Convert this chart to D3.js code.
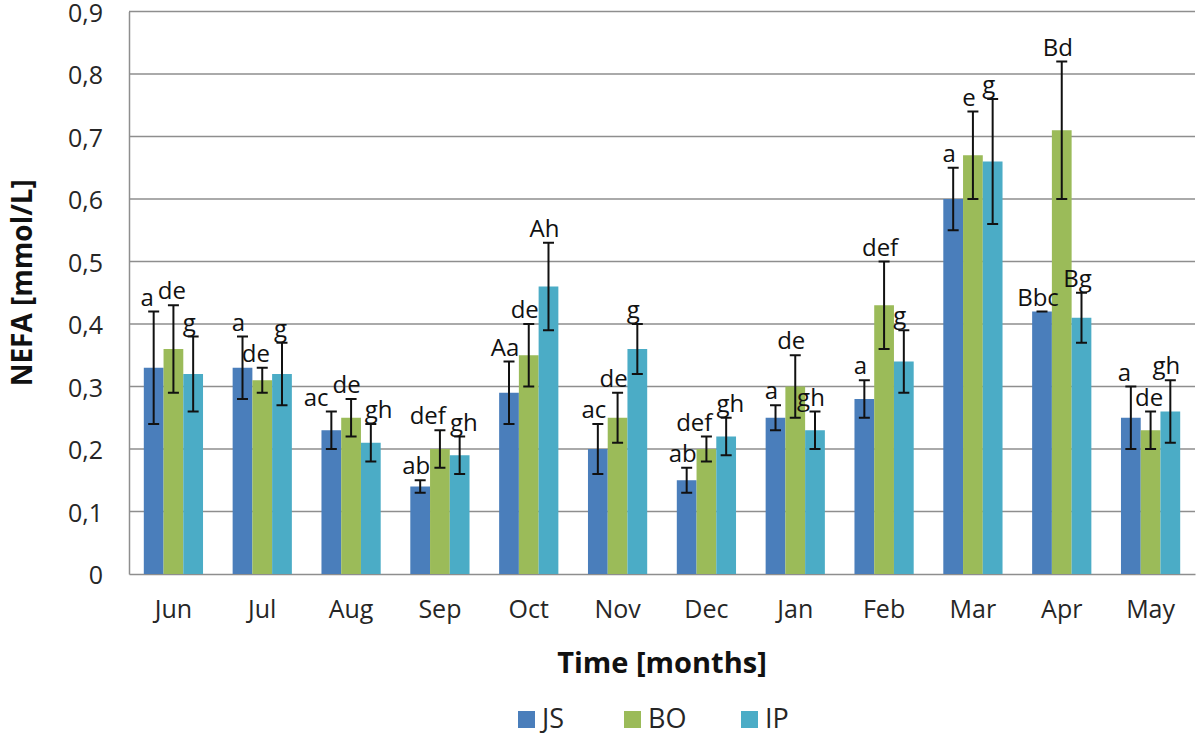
<!DOCTYPE html>
<html>
<head>
<meta charset="utf-8">
<script src="https://cdn.jsdelivr.net/npm/d3@7"></script>
<style>
  html, body { margin: 0; padding: 0; background: #fff; }
  svg { display: block; font-family: "Open Sans", sans-serif; }
</style>
</head>
<body>
<svg id="chart" width="1200" height="736"></svg>
<script>
const months = ["Jun","Jul","Aug","Sep","Oct","Nov","Dec","Jan","Feb","Mar","Apr","May"];
const seriesNames = ["JS","BO","IP"];
const jsValues = [0.33,0.33,0.23,0.14,0.29,0.20,0.15,0.25,0.28,0.60,0.42,0.25];
const boValues = [0.36,0.31,0.25,0.20,0.35,0.25,0.20,0.30,0.43,0.67,0.71,0.23];
const ipValues = [0.32,0.32,0.21,0.19,0.46,0.36,0.22,0.23,0.34,0.66,0.41,0.26];
const jsErrors = [0.09,0.05,0.03,0.01,0.05,0.04,0.02,0.02,0.03,0.05,0.00,0.05];
const boErrors = [0.07,0.02,0.03,0.03,0.05,0.04,0.02,0.05,0.07,0.07,0.11,0.03];
const ipErrors = [0.06,0.05,0.03,0.03,0.07,0.04,0.03,0.03,0.05,0.10,0.04,0.05];
const jsLetters = ["a","a","ac","ab","Aa","ac","ab","a","a","a","Bbc","a"];
const boLetters = ["de","de","de","def","de","de","def","de","def","e","Bd","de"];
const ipLetters = ["g","g","gh","gh","Ah","g","gh","gh","g","g","Bg","gh"];
const yTicks = [0,0.1,0.2,0.3,0.4,0.5,0.6,0.7,0.8,0.9];

const colors = {JS:"#4a7ebb", BO:"#9bbb59", IP:"#4bacc6"};
const valuesBy = {JS:jsValues, BO:boValues, IP:ipValues};
const errorsBy = {JS:jsErrors, BO:boErrors, IP:ipErrors};
const lettersBy = {JS:jsLetters, BO:boLetters, IP:ipLetters};

const svg = d3.select("#chart");
const L = 129, R = 1195, T = 11.5, B = 574;

const x0 = d3.scaleBand().domain(months).range([L, R]).padding(0);
const x1 = d3.scaleBand().domain(seriesNames).range([0, x0.bandwidth()]).paddingInner(0).paddingOuter(0.75);
const y = d3.scaleLinear().domain([0, 0.9]).range([B, T]);

// gridlines
svg.append("g").selectAll("line").data(yTicks.filter(d => d > 0)).join("line")
  .attr("x1", L).attr("x2", R)
  .attr("y1", d => y(d)).attr("y2", d => y(d))
  .attr("stroke", "#8e8e8e").attr("stroke-width", 1.5);

// y axis
const yAxis = d3.axisLeft(y).tickValues(yTicks).tickSize(0).tickPadding(26)
  .tickFormat(d => d === 0 ? "0" : d.toFixed(1).replace(".", ","));
const gy = svg.append("g").attr("transform", `translate(${L},0)`).call(yAxis);
gy.select(".domain").attr("stroke", "#8e8e8e").attr("stroke-width", 1.5);
gy.selectAll("text").attr("font-size", 25).attr("fill", "#262626").attr("font-family", "Open Sans")
  .attr("dy", "0.38em");

// x axis
const xAxis = d3.axisBottom(x0).tickSize(0).tickPadding(26);
const gx = svg.append("g").attr("transform", `translate(0,${B})`).call(xAxis);
gx.select(".domain").attr("stroke", "#8e8e8e").attr("stroke-width", 1.5);
gx.selectAll("text").attr("font-size", 25).attr("fill", "#262626").attr("font-family", "Open Sans");

// bars
const rows = [];
months.forEach((m, i) => {
  seriesNames.forEach(s => {
    rows.push({month: m, series: s, value: valuesBy[s][i], err: errorsBy[s][i], letter: lettersBy[s][i]});
  });
});

const gBars = svg.append("g");
gBars.selectAll("rect").data(rows).join("rect")
  .attr("x", d => x0(d.month) + x1(d.series))
  .attr("width", x1.bandwidth())
  .attr("y", d => y(d.value))
  .attr("height", d => B - y(d.value))
  .attr("fill", d => colors[d.series]);

// error bars
const cap = 5.5;
const gErr = svg.append("g").attr("stroke", "#111").attr("stroke-width", 2);
rows.forEach(d => {
  const cx = x0(d.month) + x1(d.series) + x1.bandwidth() / 2;
  const yHi = y(d.value + d.err), yLo = y(d.value - d.err);
  if (d.err > 0) {
    gErr.append("line").attr("x1", cx).attr("x2", cx).attr("y1", yHi).attr("y2", yLo);
    gErr.append("line").attr("x1", cx - cap).attr("x2", cx + cap).attr("y1", yLo).attr("y2", yLo);
  }
  gErr.append("line").attr("x1", cx - cap).attr("x2", cx + cap).attr("y1", yHi).attr("y2", yHi);
});

// letter labels, with simple horizontal collision resolution within each month
const labelFont = 24, labelGap = 4;
const gLab = svg.append("g");
const labs = gLab.selectAll("text").data(rows).join("text")
  .attr("text-anchor", "start")
  .attr("font-size", labelFont)
  .attr("fill", "#111")
  .text(d => d.letter);
labs.each(function(d) {
  d.w = this.getComputedTextLength();
  d.cx = x0(d.month) + x1(d.series) + x1.bandwidth() / 2 - 4;
  d.left = d.cx - d.w / 2;
  d.base = y(d.value + d.err) - 6;
});
months.forEach(m => {
  const ls = rows.filter(r => r.month === m);
  for (let iter = 0; iter < 10; iter++) {
    for (let k = 0; k < ls.length - 1; k++) {
      const a = ls[k], b = ls[k + 1];
      const vOverlap = Math.abs(a.base - b.base) < labelFont * 1.15;
      const over = a.left + a.w + labelGap - b.left;
      if (vOverlap && over > 0) { a.left -= over / 2; b.left += over / 2; }
    }
  }
});
labs.attr("x", d => d.left).attr("y", d => d.base);

// axis titles
svg.append("text")
  .attr("transform", `translate(32,${(T + B) / 2 - 10}) rotate(-90)`)
  .attr("text-anchor", "middle")
  .attr("font-size", 28).attr("font-weight", "bold").attr("fill", "#111")
  .text("NEFA [mmol/L]");

svg.append("text")
  .attr("x", 662).attr("y", 673)
  .attr("text-anchor", "middle")
  .attr("font-size", 29).attr("font-weight", "bold").attr("fill", "#111")
  .text("Time [months]");

// legend
const legendX = [518, 624, 741];
const gLeg = svg.append("g");
seriesNames.forEach((s, i) => {
  gLeg.append("rect").attr("x", legendX[i]).attr("y", 711).attr("width", 17).attr("height", 17).attr("fill", colors[s]);
  gLeg.append("text").attr("x", legendX[i] + 24).attr("y", 728).attr("font-size", 27).attr("fill", "#262626").text(s);
});
</script>
</body>
</html>
